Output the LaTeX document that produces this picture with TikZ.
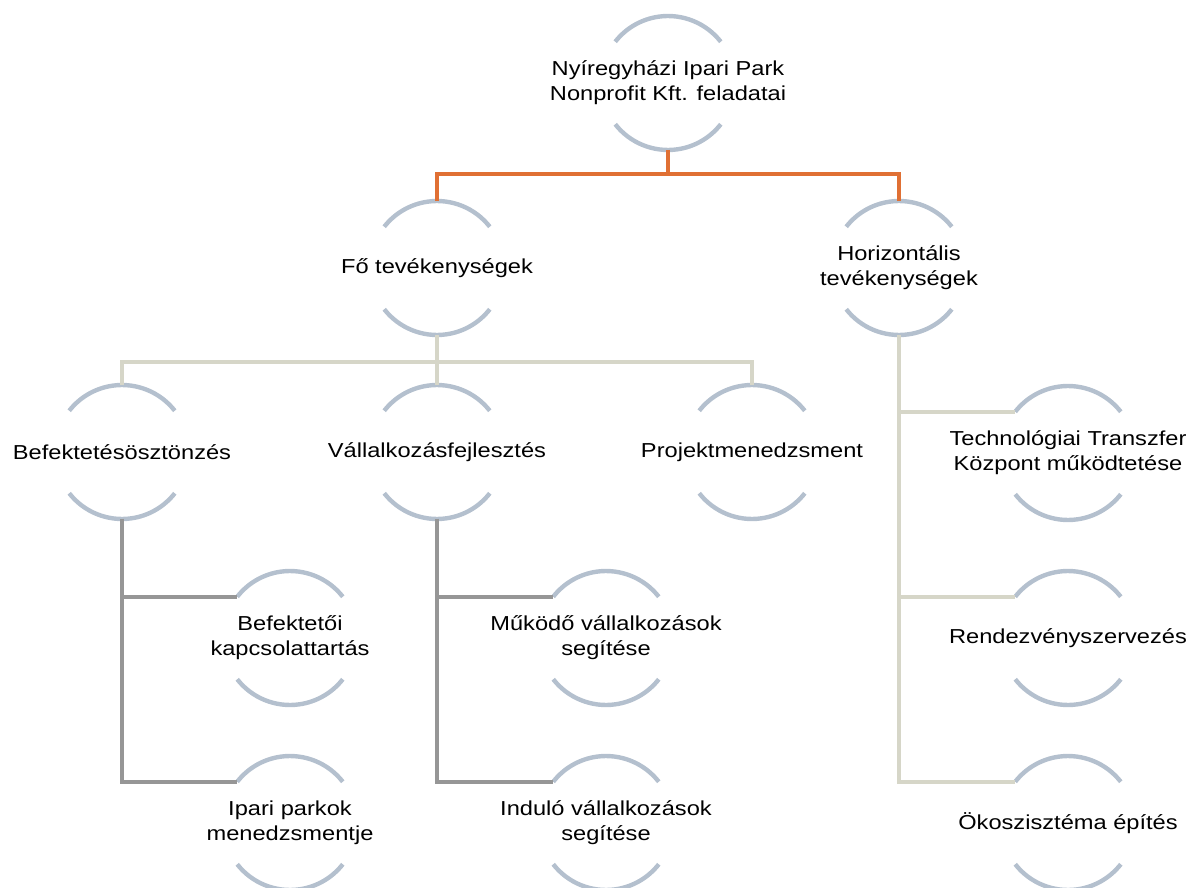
\documentclass[tikz,border=0pt]{standalone}
\usepackage{fontspec}
\setmainfont{Liberation Sans}[FakeStretch=1.17]
\definecolor{ringgray}{RGB}{180,192,206}
\definecolor{linkorange}{RGB}{224,112,52}
\definecolor{linkbeige}{RGB}{214,214,200}
\definecolor{linkdark}{RGB}{150,150,150}

\begin{document}
\begin{tikzpicture}[x=0.02cm,y=0.02cm]
	\tikzstyle{hub}=[circle,minimum size=2.68cm,inner sep=0pt,outer sep=0pt]
	\tikzstyle{tag}=[inner sep=0pt,align=center,font=\fontsize{11.5}{14.2}\selectfont]
	\tikzstyle{ring}=[draw=ringgray,line width=2.5pt]
	\tikzstyle{mainlink}=[draw=linkorange,line width=2.1pt]
	\tikzstyle{sublink}=[draw=linkbeige,line width=2.1pt]
	\tikzstyle{deeplink}=[draw=linkdark,line width=2.1pt]
	\useasboundingbox (0,0) rectangle (1196,-888);
	% hubs
	\node[hub] (root) at (668,-83) {};
	\node[hub] (fo) at (437,-268) {};
	\node[hub] (hor) at (899,-268) {};
	\node[hub] (bef) at (122,-452) {};
	\node[hub] (vall) at (437,-452) {};
	\node[hub] (proj) at (752,-452) {};
	\node[hub] (tech) at (1068,-453) {};
	\node[hub] (bk) at (290,-638) {};
	\node[hub] (mv) at (606,-638) {};
	\node[hub] (rend) at (1068,-638) {};
	\node[hub] (ip) at (290,-823) {};
	\node[hub] (iv) at (606,-823) {};
	\node[hub] (oko) at (1068,-823) {};
	% texts
	\node[tag] (root-t) at (root) {Nyíregyházi Ipari Park\\Nonprofit Kft. feladatai};
	\node[tag] (fo-t) at (fo) {Fő tevékenységek};
	\node[tag] (hor-t) at (hor) {Horizontális\\tevékenységek};
	\node[tag] (bef-t) at (bef) {Befektetésösztönzés};
	\node[tag] (vall-t) at (vall) {Vállalkozásfejlesztés};
	\node[tag] (proj-t) at (proj) {Projektmenedzsment};
	\node[tag] (tech-t) at (tech) {Technológiai Transzfer\\Központ működtetése};
	\node[tag] (bk-t) at (bk) {Befektetői\\kapcsolattartás};
	\node[tag] (mv-t) at (mv) {Működő vállalkozások\\segítése};
	\node[tag] (rend-t) at (rend) {Rendezvényszervezés};
	\node[tag] (ip-t) at (ip) {Ipari parkok\\menedzsmentje};
	\node[tag] (iv-t) at (iv) {Induló vállalkozások\\segítése};
	\node[tag] (oko-t) at (oko) {Ökoszisztéma építés};
	% arcs
	\foreach \n in {root,fo,hor,bef,vall,proj,tech,bk,mv,rend,ip,iv,oko} {
		\draw[ring] (\n.38) arc[start angle=38,end angle=142,radius=1.34cm];
		\draw[ring] (\n.-142) arc[start angle=-142,end angle=-38,radius=1.34cm];
	}
	% links
	\coordinate (obar) at (668,-174);
	\coordinate (gbar) at (437,-362);
	\draw[mainlink] (root.south) -- (obar) -| (fo.north);
	\draw[mainlink] (obar) -| (hor.north);
	\draw[sublink] (fo.south) -- (gbar) -| (bef.north);
	\draw[sublink] (gbar) -| (proj.north);
	\draw[sublink] (gbar) -- (vall.north);
	\draw[sublink] (hor.south) |- (tech.142);
	\draw[sublink] (hor.south) |- (rend.142);
	\draw[sublink] (hor.south) |- (oko.142);
	\draw[deeplink] (bef.south) |- (bk.142);
	\draw[deeplink] (bef.south) |- (ip.142);
	\draw[deeplink] (vall.south) |- (mv.142);
	\draw[deeplink] (vall.south) |- (iv.142);
\end{tikzpicture}
\end{document}
